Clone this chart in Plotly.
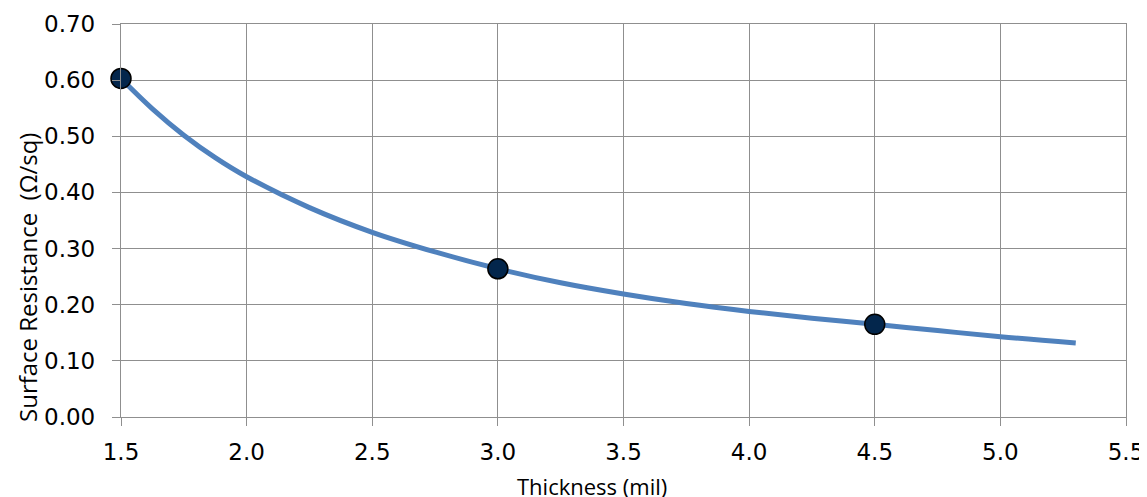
import plotly.graph_objects as go

# Trend curve
curve_x = [1.5, 1.625, 1.75, 1.875, 2.0, 2.25, 2.5, 2.75, 3.0, 3.25, 3.5, 3.75, 4.0, 4.25, 4.5, 4.75, 5.0, 5.3]
curve_y = [0.603, 0.549, 0.502, 0.462, 0.428, 0.373, 0.329, 0.294, 0.264, 0.239, 0.219, 0.202, 0.188, 0.176, 0.165, 0.154, 0.143, 0.132]

# Measured points
point_x = [1.5, 3.0, 4.5]
point_y = [0.603, 0.264, 0.165]

x_ticks = [1.5, 2.0, 2.5, 3.0, 3.5, 4.0, 4.5, 5.0, 5.5]
y_ticks = [0.0, 0.1, 0.2, 0.3, 0.4, 0.5, 0.6, 0.7]

x_title = "Thickness (mil)"
y_title = "Surface Resistance \u00a0(Ω/sq)"

grid = "#8f8f8f"

# page offset of the figure (browser body margin)
OFF = 8
L, R, T, B = 121, 1126, 24, 417  # plot area in page pixels
PW, PH = R - L, B - T

fig = go.Figure()
fig.add_trace(go.Scatter(
    x=curve_x, y=curve_y, mode="lines",
    line=dict(color="#4f81bd", width=5, shape="spline", smoothing=1.0),
    hoverinfo="skip", showlegend=False, cliponaxis=False,
))
fig.add_trace(go.Scatter(
    x=point_x, y=point_y, mode="markers",
    marker=dict(color="#03264c", size=20, line=dict(color="#000000", width=1.5)),
    showlegend=False, cliponaxis=False,
))

tickfont = dict(family="DejaVu Sans", size=23, color="#000000")

fig.update_layout(
    width=1147 - OFF, height=497 - OFF,
    margin=dict(l=L - OFF, r=1147 - R, t=T - OFF, b=497 - B, autoexpand=False),
    paper_bgcolor="white", plot_bgcolor="white",
    xaxis=dict(
        range=[1.5, 5.5], tickvals=x_ticks, ticktext=[f"{v:.1f}" for v in x_ticks],
        showgrid=True, gridcolor=grid, gridwidth=1.3,
        showline=True, linecolor=grid, linewidth=1.3, mirror=True,
        ticks="outside", ticklen=8, tickcolor=grid, tickwidth=1.3,
        zeroline=False, tickfont=tickfont, ticklabelstandoff=6, automargin=False,
    ),
    yaxis=dict(
        range=[0, 0.7], tickvals=y_ticks, ticktext=[f"{v:.2f}" for v in y_ticks],
        showgrid=True, gridcolor=grid, gridwidth=1.3,
        showline=True, linecolor=grid, linewidth=1.3, mirror=True,
        ticks="outside", ticklen=8, tickcolor=grid, tickwidth=1.3,
        zeroline=False, tickfont=tickfont, ticklabelstandoff=12, automargin=False,
    ),
    annotations=[
        dict(text=x_title, xref="paper", yref="paper",
             x=(592 - L) / PW, y=-(486 - B) / PH,
             xanchor="center", yanchor="middle", showarrow=False,
             font=dict(family="Open Sans", size=22, color="#000000")),
        dict(text=y_title, xref="paper", yref="paper",
             x=-(L - 27) / PW, y=(B - 278) / PH,
             xanchor="center", yanchor="middle", showarrow=False, textangle=-90,
             font=dict(family="Open Sans", size=24, color="#000000")),
    ],
)

fig.write_html("out.html")
